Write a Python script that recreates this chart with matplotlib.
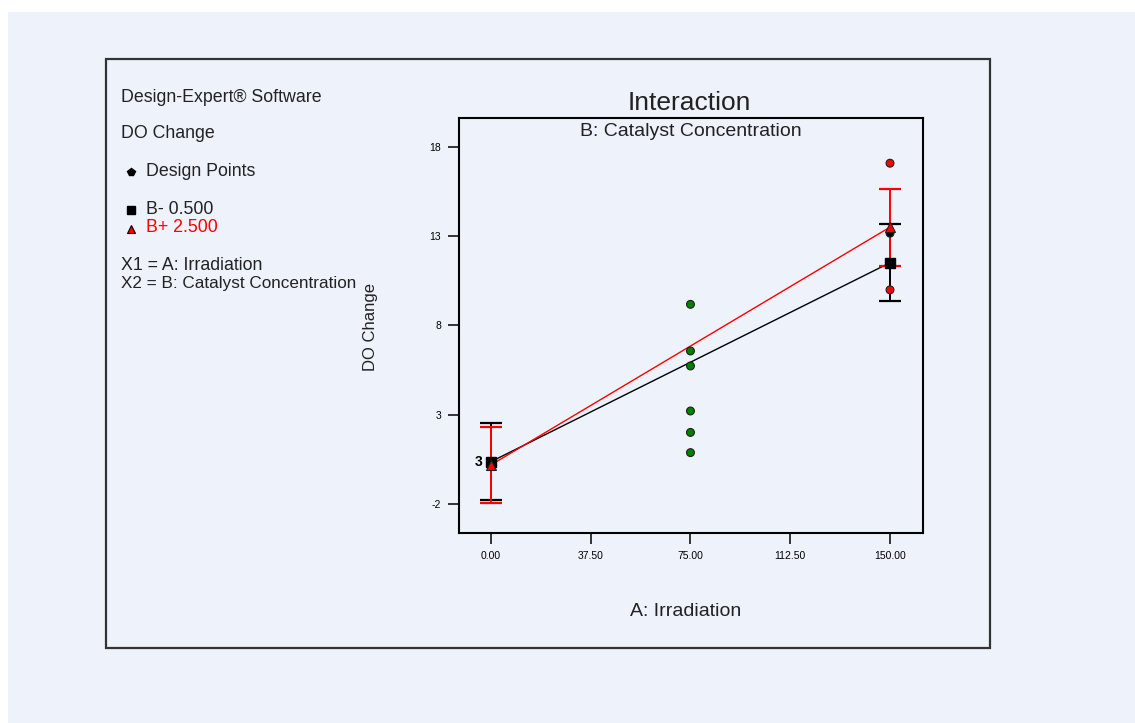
import matplotlib
matplotlib.use("Agg")
import matplotlib.pyplot as plt
from matplotlib.patches import Rectangle

plt.rcParams['font.family'] = ['Liberation Sans', 'DejaVu Sans']
plt.rcParams['axes.unicode_minus'] = False

# data
irradiation = [0, 150]
b_low_mean = [0.36, 11.5]     # B- 0.500
b_high_mean = [0.18, 13.49]   # B+ 2.500
ci_half = 2.15

dp_x = [0, 75, 75, 75, 75, 75, 75, 150, 150, 150]
dp_y = [0.3, 9.17, 6.56, 5.72, 3.2, 2.0, 0.87, 13.15, 17.07, 9.98]
dp_col = ['red', 'green', 'green', 'green', 'green', 'green', 'green', 'black', 'red', 'red']

x_ticks = [0, 37.5, 75, 112.5, 150]
x_ticklabels = ["0.00", "37.50", "75.00", "112.50", "150.00"]
y_ticks = [-2, 3, 8, 13, 18]

W, H = 1135, 723
BG = "#EEF2FB"


def fx(px):
    return px / W


def fy(py):
    return 1 - py / H


fig = plt.figure(figsize=(W / 100, H / 100), dpi=100)
fig.patch.set_facecolor("white")
fig.add_artist(Rectangle((fx(8), 0), 1 - fx(8), fy(12), transform=fig.transFigure,
                         facecolor=BG, edgecolor="none", zorder=-10))
fig.add_artist(Rectangle((fx(106), fy(648)), fx(990) - fx(106), fy(59) - fy(648),
                         transform=fig.transFigure, facecolor="none",
                         edgecolor="#333333", lw=1.6, zorder=-5))

ax = fig.add_axes([fx(459), fy(533), fx(923) - fx(459), fy(118) - fy(533)])
ax.set_facecolor(BG)

# fitted lines
ax.plot(irradiation, b_low_mean, color="black", lw=1.0, zorder=2)
ax.plot(irradiation, b_high_mean, color="red", lw=1.0, zorder=2)

# LSD bars
ax.errorbar(irradiation, b_low_mean, yerr=ci_half, fmt="none", ecolor="black",
            elinewidth=1.4, capsize=8, capthick=1.6, zorder=3)
ax.errorbar(irradiation, b_high_mean, yerr=ci_half, fmt="none", ecolor="red",
            elinewidth=1.4, capsize=8, capthick=1.6, zorder=3)

# design points
ax.scatter(dp_x, dp_y, c=dp_col, s=32, edgecolors="#202020", linewidths=0.8, zorder=4)

# means
ax.plot(irradiation, b_low_mean, ls="none", marker="s", ms=7, color="black", zorder=5)
ax.plot(irradiation, b_high_mean, ls="none", marker="^", ms=7, mfc="red", mec="#202020",
        mew=0.8, zorder=6)
ax.text(-3, dp_y[0] + 0.05, "3", fontsize=10, fontweight="bold", ha="right", va="center")

ax.set_xlim(-12, 162.4)
ax.set_ylim(-3.63, 19.6)
ax.set_xticks(x_ticks)
ax.set_xticklabels(x_ticklabels)
ax.set_yticks(y_ticks)
ax.tick_params(direction="out", length=8, width=1.1, labelsize=7.5, pad=5)
for s in ax.spines.values():
    s.set_linewidth(1.5)
    s.set_color("black")

ax.text(0.5, 0.988, "B: Catalyst Concentration", transform=ax.transAxes, ha="center",
        va="top", fontsize=14, color="#222222")
fig.text(fx(689), fy(103), "Interaction", ha="center", va="center", fontsize=19,
         color="#222222")
fig.text(fx(686), fy(612), "A: Irradiation", ha="center", va="center", fontsize=14,
         color="#222222")
fig.text(fx(371), fy(327), "DO Change", ha="center", va="center", rotation=90,
         fontsize=12, color="#222222")

# left side info block
fs = 12.8
left = fx(121)
fig.text(left, fy(97), "Design-Expert\u00ae Software", va="center", fontsize=fs, color="#222222")
fig.text(left, fy(134), "DO Change", va="center", fontsize=fs, color="#222222")
fig.text(fx(146), fy(172), "Design Points", va="center", fontsize=fs, color="#222222")
fig.text(fx(146), fy(210), "B- 0.500", va="center", fontsize=fs, color="#222222")
fig.text(fx(146), fy(228), "B+ 2.500", va="center", fontsize=fs, color="red")
fig.text(left, fy(266), "X1 = A: Irradiation", va="center", fontsize=fs, color="#222222")
fig.text(left, fy(284), "X2 = B: Catalyst Concentration", va="center", fontsize=12.3,
         color="#222222")
fig.lines.append(plt.Line2D([fx(131)], [fy(172)], marker="p", ms=6, color="black",
                            transform=fig.transFigure))
fig.lines.append(plt.Line2D([fx(131)], [fy(210)], marker="s", ms=6, color="black",
                            transform=fig.transFigure))
fig.lines.append(plt.Line2D([fx(131)], [fy(229)], marker="^", ms=6, mfc="red", mec="black",
                            mew=0.8, transform=fig.transFigure))

fig.savefig("out.png", dpi=100, facecolor=fig.get_facecolor())
